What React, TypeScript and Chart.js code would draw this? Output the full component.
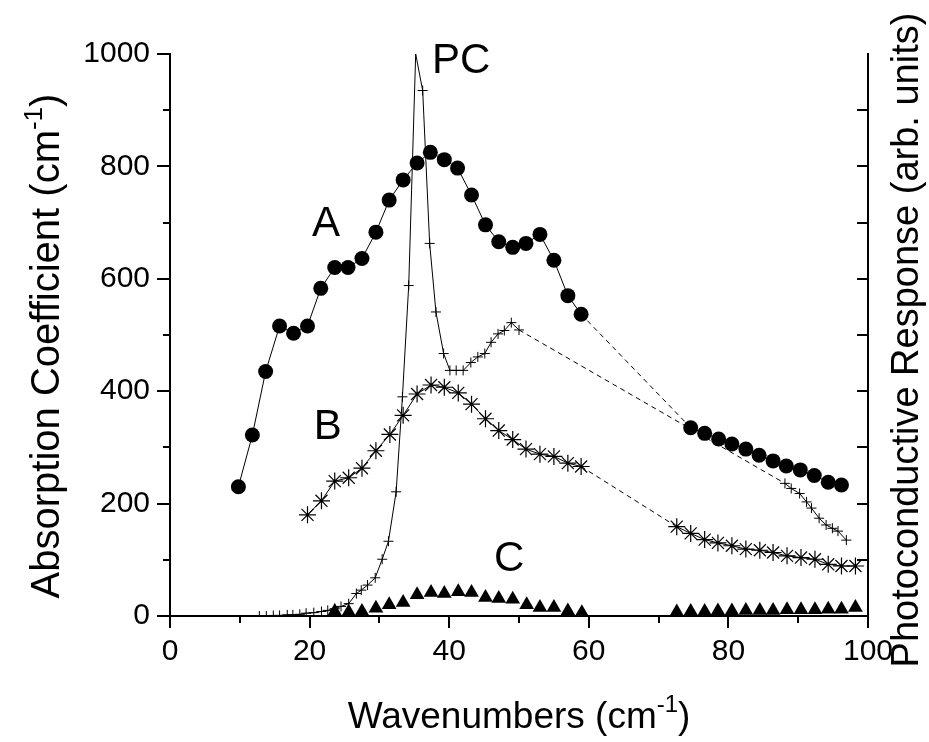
import React, { useEffect, useRef } from 'react';
import { Chart, registerables } from 'chart.js';
Chart.register(...registerables);

// Series A (filled circles)
const A_X = [9.8, 11.8, 13.7, 15.7, 17.7, 19.7, 21.6, 23.6, 25.5, 27.5, 29.5, 31.4, 33.4, 35.4, 37.3, 39.3, 41.2, 43.2, 45.2, 47.1, 49.1, 51.0, 53.0, 55.0, 57.0, 58.9, 74.6, 76.6, 78.6, 80.5, 82.5, 84.4, 86.4, 88.3, 90.3, 92.3, 94.3, 96.2];
const A_Y = [230, 322, 435, 516, 503, 516, 583, 620, 620, 636, 683, 740, 776, 806, 825, 812, 797, 749, 696, 666, 656, 663, 679, 633, 570, 537, 335, 325, 315, 306, 297, 286, 276, 267, 260, 250, 238, 233];

// Series B (asterisks)
const B_X = [19.7, 21.7, 23.6, 25.6, 27.5, 29.5, 31.5, 33.4, 35.4, 37.4, 39.3, 41.3, 43.2, 45.2, 47.1, 49.1, 51.0, 53.0, 55.0, 57.0, 58.9, 72.6, 74.6, 76.6, 78.5, 80.5, 82.5, 84.5, 86.4, 88.4, 90.4, 92.4, 94.3, 96.2, 98.2];
const B_Y = [180, 205, 240, 246, 263, 294, 323, 357, 395, 411, 407, 397, 377, 351, 330, 314, 297, 288, 284, 272, 266, 159, 147, 136, 130, 125, 119, 117, 113, 107, 104, 101, 92, 89, 89];

// Series C (filled triangles)
const C_X = [23.6, 25.6, 27.5, 29.5, 31.4, 33.4, 35.4, 37.4, 39.3, 41.3, 43.2, 45.2, 47.1, 49.1, 51.1, 53.0, 55.0, 57.0, 59.0, 72.6, 74.6, 76.6, 78.5, 80.5, 82.5, 84.5, 86.4, 88.4, 90.4, 92.4, 94.3, 96.2, 98.2];
const C_Y = [8, 7, 8, 14, 20, 24, 38, 42, 40, 43, 42, 33, 31, 30, 20, 15, 15, 9, 6, 7, 8, 8, 9, 9, 10, 10, 10, 11, 11, 11, 12, 12, 15];

// Photoconductive response (crosses), right axis (arb. units)
const PC_X = [12.8, 13.8, 14.8, 15.7, 16.8, 17.6, 18.6, 19.5, 20.6, 21.7, 22.6, 23.6, 24.5, 25.6, 26.7, 27.4, 28.3, 29.4, 30.4, 31.3, 32.4, 33.3, 34.2, 35.2, 36.2, 37.2, 38.1, 39.2, 40.1, 41.0, 42.0, 43.1, 44.1, 45.1, 46.0, 47.0, 47.9, 48.9, 50.0, 88.1, 89.0, 90.2, 91.2, 91.9, 93.0, 94.0, 94.9, 95.7, 96.9];
const PC_Y = [0, 0, 1, 1, 2, 2, 3, 5, 6, 8, 10, 13, 17, 22, 40, 46, 55, 68, 101, 133, 221, 390, 588, 1000, 935, 663, 541, 467, 437, 437, 437, 451, 461, 467, 487, 502, 508, 522, 509, 236, 227, 218, 203, 192, 174, 162, 156, 151, 135];

// Axis ranges / ticks
const X_MIN = 0, X_MAX = 100, X_STEP = 10, X_LABEL_STEP = 20;
const Y_MIN = 0, Y_MAX = 1000, Y_STEP = 100, Y_LABEL_STEP = 200;

// Curve labels (data coordinates)
const CURVE_LABELS = [
  { text: 'A', x: 22.35, y: 696 },
  { text: 'B', x: 22.6, y: 336 },
  { text: 'PC', x: 41.7, y: 987 },
  { text: 'C', x: 48.6, y: 100 },
];

const X_TITLE = ['Wavenumbers (cm', '-1', ')'];
const Y_TITLE = ['Absorption Coefficient (cm', '-1', ')'];
const Y2_TITLE = 'Photoconductive Response (arb. units)';

const FONT = "'Liberation Sans', Arial, sans-serif";

function pts(xs: number[], ys: number[]) {
  return xs.map((x, i) => ({ x, y: ys[i] }));
}

function drawRich(ctx: CanvasRenderingContext2D, parts: string[], cx: number, baseY: number, size: number) {
  const supSize = Math.round(size * 0.65);
  ctx.font = `${size}px ${FONT}`;
  const w0 = ctx.measureText(parts[0]).width;
  const w2 = ctx.measureText(parts[2]).width;
  ctx.font = `${supSize}px ${FONT}`;
  const w1 = ctx.measureText(parts[1]).width;
  const total = w0 + w1 + w2;
  let x = cx - total / 2;
  ctx.textAlign = 'left';
  ctx.textBaseline = 'alphabetic';
  ctx.font = `${size}px ${FONT}`;
  ctx.fillText(parts[0], x, baseY);
  x += w0;
  ctx.font = `${supSize}px ${FONT}`;
  ctx.fillText(parts[1], x, baseY - size * 0.42);
  x += w1;
  ctx.font = `${size}px ${FONT}`;
  ctx.fillText(parts[2], x, baseY);
}

const decoPlugin = {
  id: 'deco',
  afterDraw(chart: any) {
    const { ctx, chartArea: ca, scales } = chart;
    const xs = scales.x, ys = scales.y;
    ctx.save();
    ctx.strokeStyle = '#000';
    ctx.lineWidth = 2;
    ctx.beginPath();
    for (let v = Y_MIN; v <= Y_MAX; v += Y_STEP) {
      const py = Math.round(ys.getPixelForValue(v));
      const major = v % Y_LABEL_STEP === 0;
      ctx.moveTo(ca.left, py);
      ctx.lineTo(ca.left - (major ? 13 : 7), py);
      if (v < Y_MAX) {
        ctx.moveTo(ca.right, py);
        ctx.lineTo(ca.right - 11, py);
      }
    }
    for (let v = X_MIN; v <= X_MAX; v += X_STEP) {
      const px = Math.round(xs.getPixelForValue(v));
      const major = v % X_LABEL_STEP === 0;
      ctx.moveTo(px, ca.bottom);
      ctx.lineTo(px, ca.bottom + (major ? 12 : 7));
    }
    ctx.stroke();

    ctx.fillStyle = '#000';
    // curve labels
    ctx.font = `42px ${FONT}`;
    ctx.textAlign = 'center';
    ctx.textBaseline = 'middle';
    for (const l of CURVE_LABELS) {
      ctx.fillText(l.text, xs.getPixelForValue(l.x), ys.getPixelForValue(l.y));
    }

    // x title
    const cx = (ca.left + ca.right) / 2;
    drawRich(ctx, X_TITLE, cx, 728, 37);

    // left title
    ctx.save();
    ctx.translate(59, 346);
    ctx.rotate(-Math.PI / 2);
    drawRich(ctx, Y_TITLE, 0, 0, 40);
    ctx.restore();

    // right title
    ctx.save();
    ctx.translate(918, 340);
    ctx.rotate(-Math.PI / 2);
    ctx.font = `38px ${FONT}`;
    ctx.textAlign = 'center';
    ctx.textBaseline = 'alphabetic';
    ctx.fillText(Y2_TITLE, 0, 0);
    ctx.restore();

    ctx.restore();
  },
};

export default function App() {
  const ref = useRef<HTMLCanvasElement>(null);
  useEffect(() => {
    document.body.style.margin = '0';
    const gapDash = (c: any) => (c.p1.parsed.x - c.p0.parsed.x > 5 ? [5, 4] : undefined);
    const chart = new Chart(ref.current as HTMLCanvasElement, {
      type: 'scatter',
      data: {
        datasets: [
          {
            label: 'A',
            data: pts(A_X, A_Y),
            showLine: true,
            borderColor: '#000',
            backgroundColor: '#000',
            borderWidth: 1,
            pointStyle: 'circle',
            pointRadius: 7.5,
            pointBorderWidth: 0,
            segment: { borderDash: gapDash },
          },
          {
            label: 'B',
            data: pts(B_X, B_Y),
            showLine: true,
            borderColor: '#000',
            backgroundColor: '#000',
            borderWidth: 1,
            pointStyle: 'star',
            pointRadius: 8.5,
            pointBorderWidth: 1.2,
            segment: { borderDash: gapDash },
          },
          {
            label: 'PC',
            data: pts(PC_X, PC_Y),
            showLine: true,
            borderColor: '#000',
            backgroundColor: '#000',
            borderWidth: 1,
            pointStyle: 'cross',
            pointRadius: (c: any) => (c.raw && c.raw.y >= Y_MAX ? 0 : 5),
            pointBorderWidth: 1,
            segment: { borderDash: gapDash },
          },
          {
            label: 'C',
            data: pts(C_X, C_Y),
            showLine: false,
            borderColor: '#000',
            backgroundColor: '#000',
            pointStyle: 'triangle',
            pointRadius: 8.5,
            pointBorderWidth: 0,
          },
        ],
      },
      options: {
        animation: false,
        responsive: false,
        layout: { padding: { top: 54, left: 0, right: 0, bottom: 0 } },
        plugins: { legend: { display: false }, tooltip: { enabled: false } },
        scales: {
          x: {
            type: 'linear',
            min: X_MIN,
            max: X_MAX,
            grid: { display: false, drawTicks: false },
            border: { display: true, color: '#000', width: 2 },
            ticks: {
              stepSize: X_STEP,
              autoSkip: false,
              maxRotation: 0,
              padding: 18,
              color: '#000',
              font: { family: FONT, size: 30 },
              callback: (v: any) => (v % X_LABEL_STEP === 0 ? String(v) : ''),
            },
            afterFit: (s: any) => { s.height = 126; },
          },
          y: {
            type: 'linear',
            position: 'left',
            min: Y_MIN,
            max: Y_MAX,
            grid: { display: false, drawTicks: false },
            border: { display: true, color: '#000', width: 2 },
            ticks: {
              stepSize: Y_STEP,
              autoSkip: false,
              padding: 20,
              color: '#000',
              font: { family: FONT, size: 30 },
              callback: (v: any) => (v % Y_LABEL_STEP === 0 ? String(v) : ''),
            },
            afterFit: (s: any) => { s.width = 170; },
          },
          y2: {
            type: 'linear',
            position: 'right',
            min: Y_MIN,
            max: Y_MAX,
            grid: { display: false, drawTicks: false },
            border: { display: true, color: '#000', width: 2 },
            ticks: { display: false },
            afterFit: (s: any) => { s.width = 61; },
          },
        },
      },
      plugins: [decoPlugin],
    } as any);
    return () => chart.destroy();
  }, []);
  return <canvas ref={ref} width={929} height={742} style={{ display: 'block' }} />;
}
